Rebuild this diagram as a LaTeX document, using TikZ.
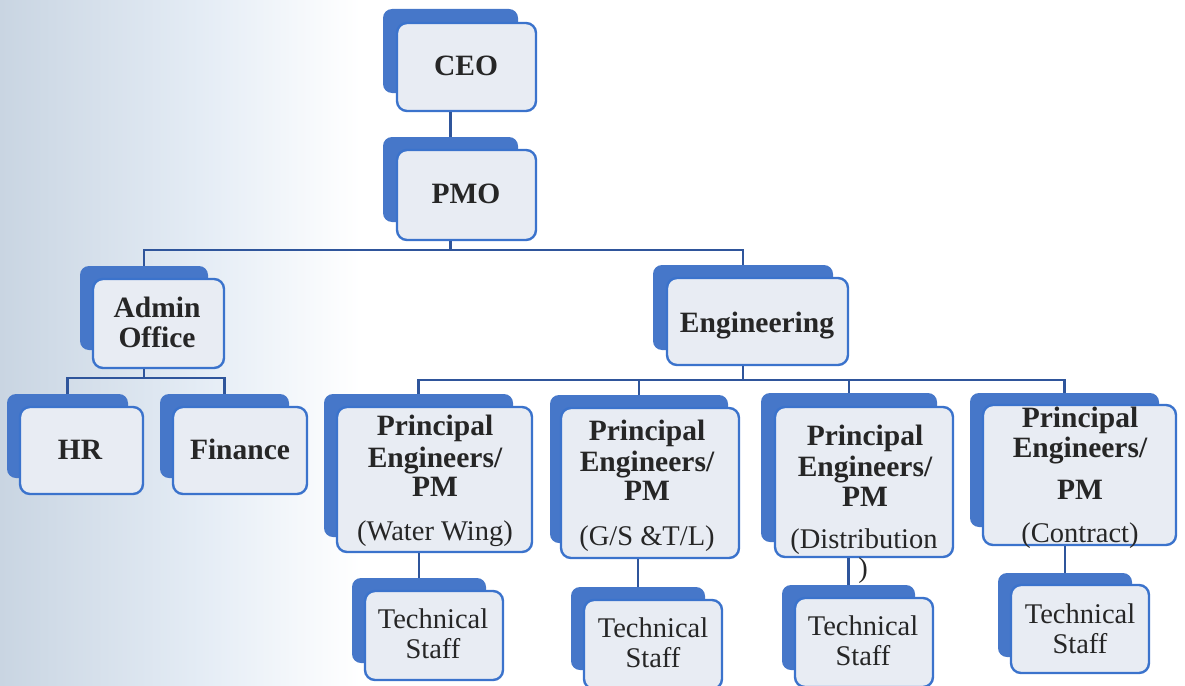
\documentclass[tikz,border=0pt]{standalone}
\usepackage{fontspec}
\setmainfont{Liberation Serif}
\definecolor{shadowblue}{HTML}{4677C9}
\definecolor{frameblue}{HTML}{3B73CC}
\definecolor{frontfill}{HTML}{E8ECF3}
\definecolor{linkblue}{HTML}{2F559B}
\definecolor{txtgray}{HTML}{262626}
\definecolor{bgleft}{HTML}{C9D5E2}
\definecolor{bgmid}{HTML}{E4ECF5}
\tikzset{
  back/.style={fill=shadowblue, rounded corners=9pt, inner sep=0pt, draw=none},
  front/.style={fill=frontfill, draw=frameblue, line width=2.4pt, rounded corners=10pt, inner sep=0pt},
  btxt/.style={font=\fontsize{29.5}{30}\selectfont\bfseries, text=txtgray, anchor=base, inner sep=0pt},
  rtxt/.style={font=\fontsize{28.5}{30}\selectfont, text=txtgray, anchor=base, inner sep=0pt},
  conn/.style={draw=linkblue, line width=2.2pt},
}
\newcommand\mkbox[9]{%
  \node[back, minimum width=#4pt, minimum height=#5pt] (#1S) at (#2,#3) {};
  \node[front, minimum width=#8pt, minimum height=#9pt] (#1) at (#6,#7) {};}
\begin{document}
\begin{tikzpicture}[x=1pt,y=-1pt]
\useasboundingbox (0,0) rectangle (1185,685);
\fill[left color=bgleft, right color=bgmid] (0,0) rectangle (200,685);
\fill[left color=bgmid, right color=white] (200,0) rectangle (360,685);
% boxes
\mkbox{ceo}{450.5}{51}{135}{84}{466.5}{67}{139}{88}
\mkbox{pmo}{450.5}{179.5}{135}{85}{466.5}{195}{139}{90}
\mkbox{admin}{144}{308}{128}{84}{158.5}{323.5}{131}{89}
\mkbox{hr}{67.5}{436}{121}{84}{81.5}{450.5}{123}{87}
\mkbox{fin}{224.5}{436}{129}{84}{240}{450.5}{134}{87}
\mkbox{eng}{743}{307.5}{180}{85}{757.5}{321.5}{181}{87}
\mkbox{peA}{418.5}{465.5}{189}{143}{434.5}{479.5}{195}{145}
\mkbox{peB}{639}{469}{178}{148}{650}{483}{178}{150}
\mkbox{peC}{849}{467.5}{176}{149}{864}{482}{178}{150}
\mkbox{peD}{1064.5}{460}{189}{134}{1079.5}{475}{193}{140}
\mkbox{tsA}{419}{620.5}{134}{85}{434}{635.5}{138}{89}
\mkbox{tsB}{638}{628.5}{134}{83}{653}{644.5}{138}{89}
\mkbox{tsC}{848.5}{627.5}{133}{85}{864}{642.5}{138}{89}
\mkbox{tsD}{1065}{615}{134}{84}{1080}{629}{138}{88}
% junctions
\coordinate (j1) at (450.5,250);
\coordinate (j2) at (144,378);
\coordinate (j3) at (743,380);
% connectors
\draw[conn] (ceoS.south |- ceo.south) -- (pmoS.north);
\draw[conn] (pmoS.south |- pmo.south) -- (j1);
\draw[conn] (adminS.north) -- (adminS.north |- j1) -- (engS.north |- j1) -- (engS.north);
\draw[conn] (adminS.south |- admin.south) -- (j2);
\draw[conn] (hrS.north) -- (hrS.north |- j2) -- (finS.north |- j2) -- (finS.north);
\draw[conn] (engS.south |- eng.south) -- (j3);
\draw[conn] (peAS.north) -- (peAS.north |- j3) -- (peDS.north |- j3) -- (peDS.north);
\draw[conn] (peBS.north) -- (peBS.north |- j3);
\draw[conn] (peCS.north) -- (peCS.north |- j3);
\draw[conn] (tsAS.north |- peA.south) -- (tsAS.north);
\draw[conn] (tsBS.north |- peB.south) -- (tsBS.north);
\draw[conn] (tsCS.north |- peC.south) -- (tsCS.north);
\draw[conn] (tsDS.north |- peD.south) -- (tsDS.north);
% texts
\node[btxt] (tceo) at (466,75) {CEO};
\node[btxt] (tpmo) at (466,203) {PMO};
\node[btxt] (tadm1) at (157,317) {Admin};
\node[btxt] (tadm2) at (157,347) {Office};
\node[btxt] (thr) at (80,459) {HR};
\node[btxt] (tfin) at (240,459) {Finance};
\node[btxt] (teng) at (757,332) {Engineering};
\node[btxt] (ta1) at (435,435) {Principal};
\node[btxt] (ta2) at (435,467) {Engineers/};
\node[btxt] (ta3) at (435,496) {PM};
\node[rtxt] (ta4) at (435,540) {(Water Wing)};
\node[btxt] (tb1) at (647,440) {Principal};
\node[btxt] (tb2) at (647,471) {Engineers/};
\node[btxt] (tb3) at (647,500) {PM};
\node[rtxt] (tb4) at (647,545) {(G/S \&T/L)};
\node[btxt] (tc1) at (865,445) {Principal};
\node[btxt] (tc2) at (865,476) {Engineers/};
\node[btxt] (tc3) at (865,506) {PM};
\node[rtxt] (tc4) at (864,548) {(Distribution};
\node[rtxt] (tc5) at (863,577) {)};
\node[btxt] (td1) at (1080,427) {Principal};
\node[btxt] (td2) at (1080,457) {Engineers/};
\node[btxt] (td3) at (1080,499) {PM};
\node[rtxt] (td4) at (1080,542) {(Contract)};
\node[rtxt] (tsa1) at (433,628) {Technical};
\node[rtxt] (tsa2) at (433,658) {Staff};
\node[rtxt] (tsb1) at (653,637) {Technical};
\node[rtxt] (tsb2) at (653,667) {Staff};
\node[rtxt] (tsc1) at (863,635) {Technical};
\node[rtxt] (tsc2) at (863,665) {Staff};
\node[rtxt] (tsd1) at (1080,623) {Technical};
\node[rtxt] (tsd2) at (1080,653) {Staff};
\end{tikzpicture}
\end{document}
